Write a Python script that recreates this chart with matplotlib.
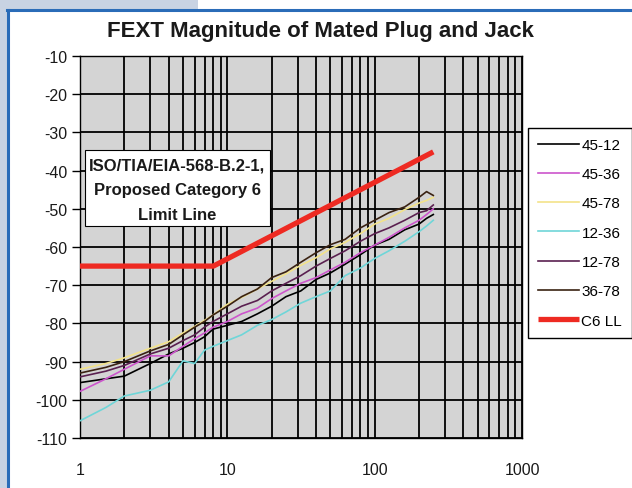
import matplotlib
matplotlib.use('Agg')
import matplotlib.pyplot as plt
from matplotlib.patches import Rectangle

plt.rcParams['font.family'] = ['Liberation Sans', 'DejaVu Sans']
plt.rcParams['axes.unicode_minus'] = False

# frequency points (MHz)
freq = [1, 1.5, 2, 3, 4, 5, 6, 7, 8, 10, 12.5, 16, 20, 25, 31.5, 40, 50, 63,
        80, 100, 125, 160, 200, 225, 250]

fext_45_12 = [-95.5, -94.5, -93.8, -90.5, -88.0, -86.5, -85.0, -83.5, -81.5, -80.5,
              -79.5, -77.5, -75.5, -73.0, -71.5, -68.5, -66.8, -64.5, -62.0, -59.5,
              -58.0, -55.5, -54.0, -52.5, -51.5]
fext_45_36 = [-97.8, -94.5, -92.0, -88.5, -88.5, -86.0, -84.0, -82.5, -81.0, -79.5,
              -77.5, -76.0, -73.5, -71.5, -69.5, -68.0, -66.0, -64.0, -61.5, -59.5,
              -57.5, -55.0, -53.0, -51.5, -50.0]
fext_45_78 = [-92.0, -90.5, -89.0, -86.5, -84.8, -82.5, -80.8, -79.2, -77.8, -75.0,
              -73.2, -71.0, -69.0, -67.0, -64.8, -62.8, -60.5, -58.8, -56.5, -54.0,
              -52.5, -50.2, -48.5, -47.8, -47.0]
fext_12_36 = [-105.5, -102.0, -99.0, -97.5, -95.3, -89.8, -90.5, -87.0, -86.0, -84.5,
              -83.0, -80.5, -79.0, -77.0, -74.7, -73.0, -71.5, -67.5, -65.5, -63.0,
              -61.0, -58.5, -56.0, -54.5, -53.0]
fext_12_78 = [-94.0, -92.5, -91.0, -88.0, -86.5, -84.5, -83.0, -81.0, -79.5, -77.5,
              -75.5, -74.0, -71.5, -69.5, -67.5, -65.0, -63.0, -61.0, -58.5, -56.5,
              -55.0, -53.0, -51.0, -50.5, -49.0]
fext_36_78 = [-93.0, -91.5, -90.0, -87.2, -85.5, -83.0, -81.0, -79.5, -77.8, -75.5,
              -73.0, -71.0, -68.0, -66.5, -64.0, -61.5, -59.4, -58.0, -55.0, -53.0,
              -51.0, -49.5, -47.0, -45.5, -46.5]

ll_freq = [1, 8.04, 250]
ll_vals = [-65, -65, -35.1]

series = [('45-12', fext_45_12, '#000000'),
          ('45-36', fext_45_36, '#cc55cc'),
          ('45-78', fext_45_78, '#f3e38a'),
          ('12-36', fext_12_36, '#6fd6d8'),
          ('12-78', fext_12_78, '#5a2050'),
          ('36-78', fext_36_78, '#3a2212')]

W, H = 632, 489
fig = plt.figure(figsize=(W / 100, H / 100), dpi=100)
fig.patch.set_facecolor('white')

def fx(px):
    return px / W

def fy(py):
    return 1 - py / H

# page background and blue frame
bg = '#c8d3e3'
fig.patches.append(Rectangle((0, 0), fx(7), 1, transform=fig.transFigure,
                             fc=bg, ec='none', zorder=-2))
fig.patches.append(Rectangle((0, fy(10)), fx(198), 1 - fy(10), transform=fig.transFigure,
                             fc=bg, ec='none', zorder=-2))
fig.add_artist(plt.Line2D([fx(7), 1], [fy(10.5), fy(10.5)], transform=fig.transFigure,
                          color='#2a6cb8', lw=2.2, zorder=-1))
fig.add_artist(plt.Line2D([fx(8), fx(8)], [0, fy(10.5)], transform=fig.transFigure,
                          color='#2a6cb8', lw=2.2, zorder=-1))

ax = fig.add_axes([fx(80), fy(439), fx(522) - fx(80), fy(57) - fy(439)])
ax.set_facecolor('#d4d4d4')

for name, vals, col in series:
    ax.plot(freq, vals, color=col, lw=1.2, label=name, zorder=3)
ax.plot(ll_freq, ll_vals, color='#ee2a22', lw=3.8, label='C6 LL', zorder=4,
        solid_capstyle='butt')

ax.set_xscale('log')
ax.set_xlim(1, 1000)
ax.set_ylim(-110, -10)
ax.set_yticks(range(-110, 0, 10))
ax.grid(True, which='both', axis='x', color='black', lw=1.3)
ax.grid(True, which='major', axis='y', color='black', lw=1.3)
ax.set_axisbelow(True)
for s in ax.spines.values():
    s.set_color('black')
    s.set_linewidth(1.0)

ax.tick_params(axis='y', which='major', length=6, width=1, direction='out',
               labelsize=11.5, pad=3, labelcolor='#1a1a1a')
ax.tick_params(axis='x', which='both', length=0, labelsize=11.5, pad=17,
               labelcolor='#1a1a1a')
ax.set_xticks([1, 10, 100, 1000])
ax.set_xticklabels(['1', '10', '100', '1000'])

fig.text(fx(320), fy(31), 'FEXT Magnitude of Mated Plug and Jack', ha='center',
         va='center', fontsize=16, fontweight='bold', color='#1a1a1a')

# annotation box
fig.patches.append(Rectangle((fx(85), fy(227)), fx(270) - fx(85), fy(151) - fy(227),
                             transform=fig.transFigure, fc='white', ec='black',
                             lw=0.8, zorder=5))
for txt, py in [('ISO/TIA/EIA-568-B.2-1,', 166), ('Proposed Category 6', 191),
                ('Limit Line', 215)]:
    fig.text(fx(177.5), fy(py), txt, ha='center', va='center', fontsize=12,
             fontweight='bold', color='#1a1a1a', zorder=6)

leg = ax.legend(loc='upper left', bbox_to_anchor=(fx(528), fy(129)),
                bbox_transform=fig.transFigure, fontsize=11, frameon=True,
                fancybox=False, framealpha=1, edgecolor='black',
                handlelength=2.7, handletextpad=0.15, labelspacing=1.0,
                borderpad=0.65, borderaxespad=0)
leg.get_frame().set_linewidth(1.0)

fig.savefig('out.png', dpi=100)
